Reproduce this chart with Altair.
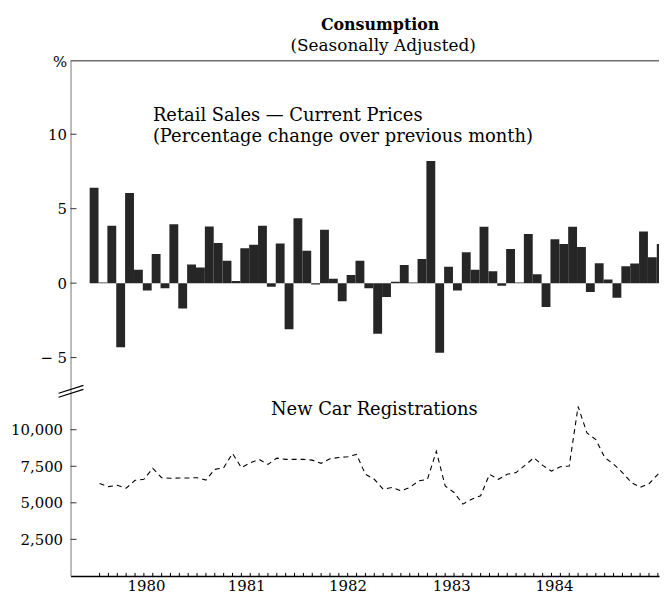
import altair as alt
import pandas as pd

# ---------------- data ----------------
retail_change = [6.4, 0.05, 3.85, -4.3, 6.05, 0.9, -0.5, 1.95, -0.35, 3.95,
                 -1.7, 1.25, 1.05, 3.8, 2.7, 1.5, 0.15, 2.35, 2.58, 3.85,
                 -0.25, 2.67, -3.1, 4.35, 2.18, -0.1, 3.58, 0.3, -1.22, 0.55,
                 1.5, -0.35, -3.4, -0.93, 0.1, 1.22, 0.05, 1.62, 8.2, -4.67,
                 1.1, -0.5, 2.07, 0.9, 3.78, 0.8, -0.18, 2.3, 0.05, 3.3,
                 0.6, -1.6, 2.95, 2.62, 3.78, 2.42, -0.6, 1.33, 0.25, -0.98,
                 1.13, 1.32, 3.47, 1.73, 2.62]

car_regs = [6320, 6110, 6200, 6000, 6540, 6610, 7360, 6720, 6680, 6700,
            6700, 6720, 6560, 7290, 7400, 8380, 7400, 7740, 7970, 7630,
            8060, 7970, 7970, 7970, 7920, 7700, 8010, 8100, 8150, 8310,
            6950, 6610, 5930, 6050, 5820, 6050, 6500, 6610, 8530, 6150,
            5710, 4910, 5250, 5480, 6950, 6610, 6950, 7070, 7560, 8080,
            7560, 7170, 7470, 7520, 11590, 9780, 9330, 8100, 7650, 7070,
            6390, 6060, 6310, 6950, 7630]

year_labels = ["1980", "1981", "1982", "1983", "1984"]
year_ticks = [6.35, 17.66, 29.1, 40.8, 52.4]     # month-index positions of the year labels

pct_ticks = [-5, 0, 5, 10]
car_ticks = [2500, 5000, 7500, 10000]

title_text = ["Consumption"]
subtitle_text = ["(Seasonally Adjusted)"]
retail_label = ["Retail Sales — Current Prices"]
retail_sub = ["(Percentage change over previous month)"]
car_label = ["New Car Registrations"]

# ---------------- tables ----------------
n = len(retail_change)
bars = pd.DataFrame({"t": list(range(n)), "t2": [i + 1 for i in range(n)], "v": retail_change})
line = pd.DataFrame({"t": [k + 1.12 for k in range(len(car_regs))], "v": car_regs})

FONT = "DejaVu Serif"
W, H1, H2 = 593, 329, 190

xs = alt.Scale(domain=[-2.16, 64.25], nice=False, zero=False)
ys1 = alt.Scale(domain=[-7, 14.93], nice=False, zero=False)
ys2 = alt.Scale(domain=[0, 12900], nice=False, zero=False)

axis1 = alt.Axis(values=pct_ticks + [14.9], ticks=False, grid=False, title=None,
                 labelExpr="datum.value > 14 ? '%' : datum.value < 0 ? '− 5' : format(datum.value, 'd')",
                 domainColor="#777", labelFont=FONT, labelFontSize=15, labelColor="black",
                 labelPadding=4, labelFlush=False, labelOverlap=False)
axis2 = alt.Axis(values=car_ticks, ticks=False, grid=False, title=None,
                 labelExpr="format(datum.value, ',d')",
                 domainColor="#777", labelFont=FONT, labelFontSize=15, labelColor="black",
                 labelPadding=8, labelFlush=False, labelOverlap=False)

# year label expression built from the label lists
expr = "'" + year_labels[-1] + "'"
for i in range(len(year_ticks) - 2, -1, -1):
    mid = (year_ticks[i] + year_ticks[i + 1]) / 2
    expr = f"datum.value < {mid} ? '{year_labels[i]}' : ({expr})"

xaxis2 = alt.Axis(values=year_ticks, labelExpr=expr, ticks=False, grid=False, title=None,
                  domainColor="black", domainWidth=1.5, labelFont=FONT, labelFontSize=15,
                  labelColor="black", labelPadding=3, labelFlush=False, labelOverlap=False)

y1 = alt.Y("v:Q", scale=ys1, axis=axis1)
y2 = alt.Y("v:Q", scale=ys2, axis=axis2)

# ---------------- upper panel ----------------
bar_layer = alt.Chart(bars).mark_rect(color="#262626", clip=True).encode(
    x=alt.X("t:Q", scale=xs, axis=None), x2="t2", y=y1, y2=alt.datum(0))

ticks1 = alt.Chart(pd.DataFrame({"v": pct_ticks})).mark_rule(color="#333").encode(
    y=y1, x=alt.value(0), x2=alt.value(6))

frame_top = alt.Chart(pd.DataFrame({"a": [0]})).mark_rule(color="#222", strokeWidth=1).encode(
    x=alt.value(0), x2=alt.value(W), y=alt.value(0))

pin = alt.Chart(pd.DataFrame({"a": [0]})).mark_rule(color="white", strokeWidth=1).encode(
    x=alt.value(-62.5), x2=alt.value(-62.4), y=alt.value(-50.5), y2=alt.value(-50.5))

def txt(s, x, y, size, weight="normal", align="left"):
    return alt.Chart(pd.DataFrame({"s": s})).mark_text(
        font=FONT, fontSize=size, fontWeight=weight, align=align, baseline="alphabetic",
        color="black").encode(text="s:N", x=alt.value(x), y=alt.value(y))

top = alt.layer(
    bar_layer, ticks1, frame_top, pin,
    txt(title_text, 312, -31, 16, "bold", "center"),
    txt(subtitle_text, 315, -10, 17, "normal", "center"),
    txt(retail_label, 83, 61, 18),
    txt(retail_sub, 83, 82, 18),
).properties(width=W, height=H1)

# ---------------- lower panel ----------------
line_layer = alt.Chart(line).mark_line(color="black", strokeDash=[5, 4], strokeWidth=1.1,
                                       clip=True).encode(
    x=alt.X("t:Q", scale=xs, axis=xaxis2), y=y2)

month_ticks = alt.Chart(line).mark_rule(color="black", strokeWidth=1, clip=True).encode(
    x=alt.X("t:Q", scale=xs, axis=xaxis2), y=alt.value(H2 - 3), y2=alt.value(H2 + 3))

ticks2 = alt.Chart(pd.DataFrame({"v": car_ticks})).mark_rule(color="#333").encode(
    y=y2, x=alt.value(0), x2=alt.value(6))

brk1 = alt.Chart(pd.DataFrame({"a": [0]})).mark_rule(color="black", strokeWidth=1.2).encode(
    x=alt.value(-12), x2=alt.value(13), y=alt.value(6), y2=alt.value(-2))
brk2 = alt.Chart(pd.DataFrame({"a": [0]})).mark_rule(color="black", strokeWidth=1.2).encode(
    x=alt.value(-12), x2=alt.value(13), y=alt.value(10), y2=alt.value(2))

bottom = alt.layer(
    line_layer, month_ticks, ticks2, brk1, brk2,
    txt(car_label, 202, 28, 18),
).properties(width=W, height=H2)

chart = alt.vconcat(top, bottom, spacing=0, bounds="flush").properties(
    padding=0, background="white"
).configure_view(strokeWidth=0)

chart.save("out.html", embed_options={"renderer": "svg", "actions": False})
